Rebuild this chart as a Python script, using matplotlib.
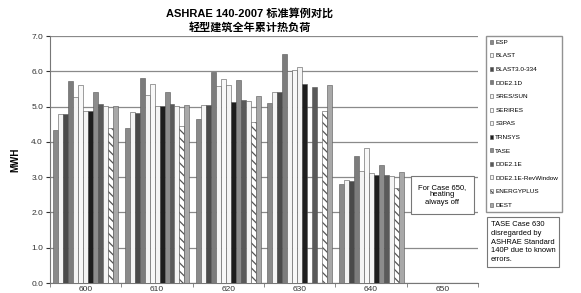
import numpy as np
import matplotlib
matplotlib.use("Agg")
import matplotlib.pyplot as plt
from matplotlib.patches import Patch

plt.rcParams['font.family'] = ['Liberation Sans', 'Noto Sans CJK SC', 'DejaVu Sans']
plt.rcParams['hatch.linewidth'] = 0.9

nan = np.nan
cases = ['600', '610', '620', '630', '640', '650']

# annual heating load, MWh
esp        = [4.35, 4.39, 4.65, 5.09, 2.81, nan]
blast      = [4.80, 4.85, 5.05, 5.41, 2.91, nan]
blast3     = [4.80, 4.83, 5.05, 5.41, 2.88, nan]
doe21d     = [5.72, 5.81, 5.97, 6.50, 3.59, nan]
sres_sun   = [5.26, 5.34, 5.58, 6.00, 3.18, nan]
serires    = [5.62, 5.65, 5.77, 6.05, 3.83, nan]
s3pas      = [4.87, 5.01, 5.62, 6.13, 3.11, nan]
trnsys     = [4.87, 5.01, 5.12, 5.65, 3.07, nan]
tase       = [5.40, 5.41, 5.76, nan, 3.35, nan]
doe21e     = [5.06, 5.08, 5.18, 5.56, 3.05, nan]
doe21e_rw  = [5.02, 5.03, 5.15, nan, 3.03, nan]
energyplus = [4.40, 4.44, 4.55, 4.87, 2.68, nan]
dest       = [5.02, 5.05, 5.31, 5.62, 3.16, nan]

programs = ['ESP', 'BLAST', 'BLAST3.0-334', 'DOE2.1D', 'SRES/SUN', 'SERIRES',
            'S3PAS', 'TRNSYS', 'TASE', 'DOE2.1E', 'DOE2.1E-RevWindow',
            'ENERGYPLUS', 'DEST']
series = [esp, blast, blast3, doe21d, sres_sun, serires, s3pas, trnsys,
          tase, doe21e, doe21e_rw, energyplus, dest]

# grayscale look of the scanned chart
colors = ['#8a8a8a', '#f4f4f4', '#4a4a4a', '#7c7c7c', '#f4f4f4', '#f8f8f8',
          '#f4f4f4', '#1e1e1e', '#8c8c8c', '#5a5a5a', '#f4f4f4', '#ffffff',
          '#a8a8a8']
hatches = [None] * 11 + ['\\\\\\\\', None]

fig = plt.figure(figsize=(5.81, 2.93), dpi=100)
ax = fig.add_axes([0.086, 0.034, 0.737, 0.843])

x = np.arange(len(cases))
n = len(series)
w = 0.91 / n
for i, vals in enumerate(series):
    off = (i - (n - 1) / 2) * w
    ax.bar(x + off, vals, width=w, color=colors[i], edgecolor='#555555',
           linewidth=0.4, hatch=hatches[i], zorder=3)

ax.set_xlim(-0.5, len(cases) - 0.5)
ax.set_ylim(0, 7)
ax.set_yticks(np.arange(0, 7.1, 1.0))
ax.set_yticklabels([f'{v:.1f}' for v in np.arange(0, 7.1, 1.0)])
ax.set_xticks(x)
ax.set_xticklabels(cases)
ax.set_xticks(np.arange(-0.5, len(cases)), minor=True)
ax.tick_params(axis='x', which='major', length=0, labelsize=6, pad=2, colors='#333333')
ax.tick_params(axis='x', which='minor', length=3, color='#777777')
ax.tick_params(axis='y', labelsize=6, length=3, pad=2, colors='#333333')
ax.yaxis.grid(True, color='#8a8a8a', linewidth=0.9, zorder=0)
for s in ['top', 'right']:
    ax.spines[s].set_visible(False)
for s in ['left', 'bottom']:
    ax.spines[s].set_color('#777777')
ax.set_ylabel('MWH', fontsize=7, fontweight='bold', labelpad=8)

ax.text(5, 2.5, 'For Case 650,\nheating\nalways off', ha='center', va='center',
        fontsize=5.5, linespacing=1.15, zorder=5,
        bbox=dict(boxstyle='square,pad=1.0', facecolor='white', edgecolor='#777777', linewidth=0.8))

fig.text(0.43, 0.955, 'ASHRAE 140-2007 标准算例对比', ha='center', va='center',
         fontsize=8, fontweight='bold')
fig.text(0.43, 0.905, '轻型建筑全年累计热负荷', ha='center', va='center',
         fontsize=8, fontweight='bold')

handles = [Patch(facecolor=colors[i], edgecolor='#555555', linewidth=0.4,
                 hatch=hatches[i], label=programs[i]) for i in range(n)]
fig.legend(handles=handles, loc='upper left', bbox_to_anchor=(0.836, 0.878),
           fontsize=4.6, frameon=True, fancybox=False, edgecolor='#777777',
           handlelength=0.6, handleheight=0.6, handletextpad=0.3,
           labelspacing=1.3, borderpad=0.6, borderaxespad=0)

fig.text(0.845, 1 - 221 / 293, 'TASE Case 630\ndisregarded by\nASHRAE Standard\n140P due to known\nerrors.',
         ha='left', va='top', fontsize=5.4, linespacing=1.35,
         bbox=dict(boxstyle='square,pad=0.5', facecolor='white', edgecolor='#777777', linewidth=0.8))

fig.savefig('out.png', dpi=100)
